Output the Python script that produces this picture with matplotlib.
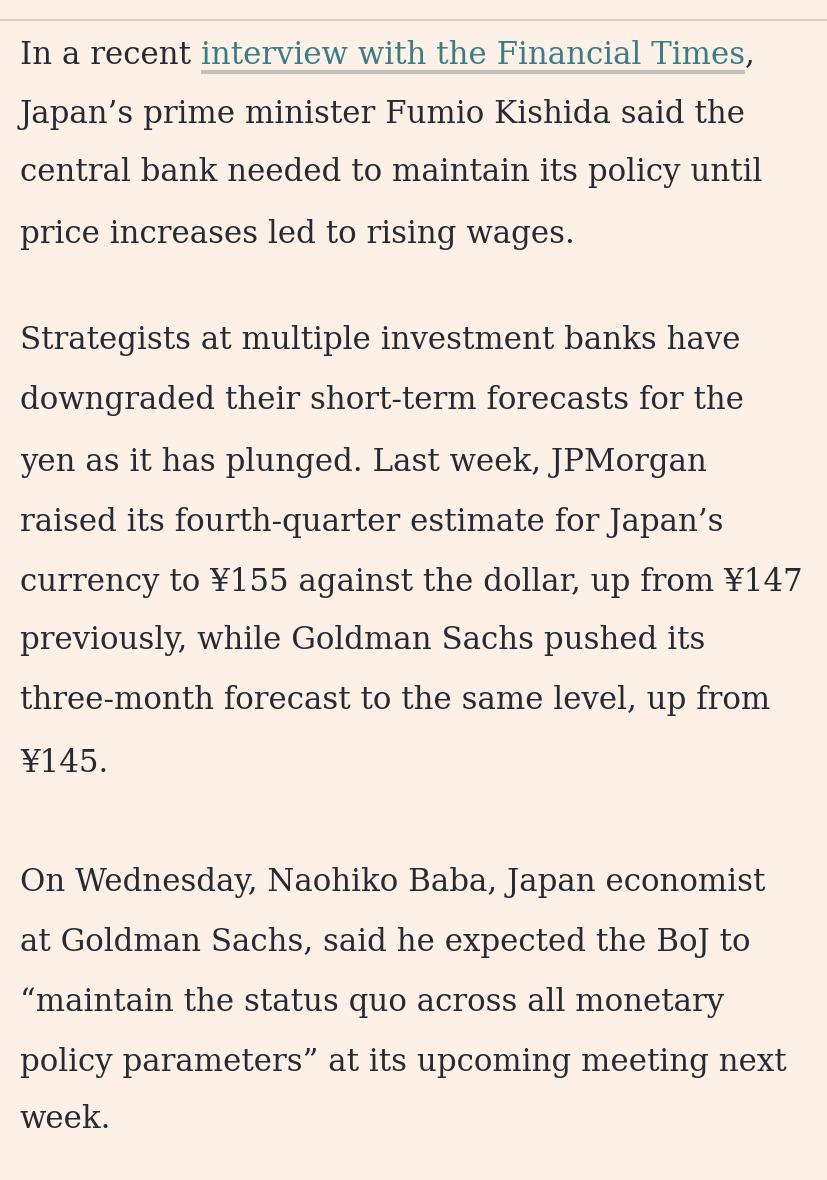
import matplotlib.pyplot as plt

bg = "#fcf0e7"
ink = "#262a33"
link = "#3b7c85"

para1 = ["Japan’s prime minister Fumio Kishida said the",
         "central bank needed to maintain its policy until",
         "price increases led to rising wages."]
para2 = ["Strategists at multiple investment banks have",
         "downgraded their short-term forecasts for the",
         "yen as it has plunged. Last week, JPMorgan",
         "raised its fourth-quarter estimate for Japan’s",
         "currency to ¥155 against the dollar, up from ¥147",
         "previously, while Goldman Sachs pushed its",
         "three-month forecast to the same level, up from",
         "¥145."]
para3 = ["On Wednesday, Naohiko Baba, Japan economist",
         "at Goldman Sachs, said he expected the BoJ to",
         "“maintain the status quo across all monetary",
         "policy parameters” at its upcoming meeting next",
         "week."]
p1_y = [114, 173, 234]
p2_y = [341, 401, 462, 522, 582, 641, 700, 763]
p3_y = [883, 942, 1002, 1062, 1120]

W, H = 828, 1180
fig = plt.figure(figsize=(W / 100, H / 100), dpi=100, facecolor=bg)
ax = fig.add_axes([0, 0, 1, 1])
ax.set_xlim(0, W)
ax.set_ylim(H, 0)
ax.axis("off")
ax.axhline(20, color="#cfc6bf", lw=1.2)

fs = 22.2
font = dict(family="DejaVu Serif", fontsize=fs, color=ink, va="center")
x0 = 20

# first line with link
fig.canvas.draw()
r = fig.canvas.get_renderer()
t1 = ax.text(x0, 55, "In a recent ", **font)
bb = t1.get_window_extent(r)
xl = bb.x1  # pixels == data x
t2 = ax.text(xl, 55, "interview with the Financial Times", **{**font, "color": link})
bb2 = t2.get_window_extent(r)
ax.text(bb2.x1, 55, ",", **font)
ax.plot([xl, bb2.x1], [72, 72], color="#c9c2bc", lw=3, solid_capstyle="butt")

for lines, ys in [(para1, p1_y), (para2, p2_y), (para3, p3_y)]:
    for s, y in zip(lines, ys):
        ax.text(x0, y, s, **font)

fig.savefig("out.png", dpi=100, facecolor=bg)
